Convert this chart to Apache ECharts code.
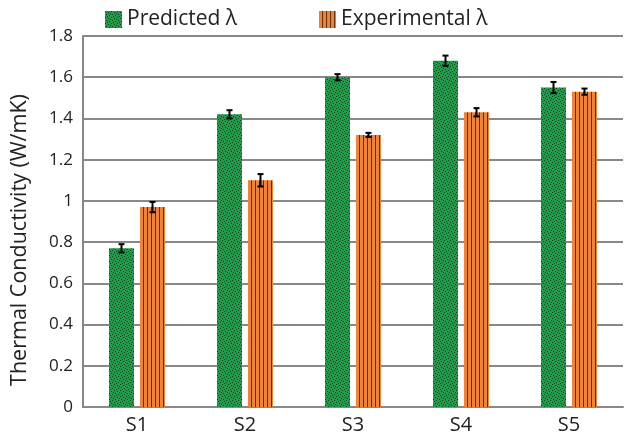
<!DOCTYPE html>
<html>
<head>
<meta charset="utf-8">
<script src="https://cdn.jsdelivr.net/npm/echarts@6/dist/echarts.min.js"></script>
<style>html,body{margin:0;padding:0;background:#fff}#c{width:625px;height:437px}</style>
</head>
<body>
<div id="c"></div>
<script>
const categories = ['S1', 'S2', 'S3', 'S4', 'S5'];
const predicted = [0.77, 1.42, 1.60, 1.68, 1.55];
const predictedErr = [0.02, 0.02, 0.015, 0.025, 0.027];
const experimental = [0.97, 1.10, 1.32, 1.43, 1.53];
const experimentalErr = [0.025, 0.03, 0.01, 0.02, 0.015];
const seriesNames = ['Predicted λ', 'Experimental λ'];
const yTicks = [0, 0.2, 0.4, 0.6, 0.8, 1, 1.2, 1.4, 1.6, 1.8];

function dotPattern() {
  const c = document.createElement('canvas');
  c.width = 6; c.height = 6;
  const g = c.getContext('2d');
  g.fillStyle = '#1c9e4a'; g.fillRect(0, 0, 6, 6);
  g.fillStyle = '#0b3d1c';
  const pts = [[0,0],[3,1],[1,3],[4,4],[5,2],[2,5]];
  pts.forEach(p => g.fillRect(p[0], p[1], 1, 1));
  return c;
}
function stripePattern() {
  const c = document.createElement('canvas');
  c.width = 4; c.height = 4;
  const g = c.getContext('2d');
  g.fillStyle = '#ee8434'; g.fillRect(0, 0, 4, 4);
  g.fillStyle = '#5c2e0e'; g.fillRect(3, 0, 1, 4);
  return c;
}
const greenFill = { image: dotPattern(), repeat: 'repeat' };
const orangeFill = { image: stripePattern(), repeat: 'repeat' };

const chart = echarts.init(document.getElementById('c'), null, { renderer: 'canvas' });
const FONT = 'Open Sans';
const BAR_OFFSET = 15.5;

function errSeries(vals, errs, sign) {
  return {
    type: 'custom',
    data: vals.map((v, i) => [i, v - errs[i], v + errs[i]]),
    z: 10,
    silent: true,
    renderItem: function (params, api) {
      const lo = api.coord([api.value(0), api.value(1)]);
      const hi = api.coord([api.value(0), api.value(2)]);
      const x = lo[0] + sign * BAR_OFFSET;
      const hw = 3;
      const style = { stroke: '#000', lineWidth: 2 };
      return {
        type: 'group',
        children: [
          { type: 'line', shape: { x1: x, y1: lo[1], x2: x, y2: hi[1] }, style: style },
          { type: 'line', shape: { x1: x - hw, y1: lo[1], x2: x + hw, y2: lo[1] }, style: style },
          { type: 'line', shape: { x1: x - hw, y1: hi[1], x2: x + hw, y2: hi[1] }, style: style }
        ]
      };
    }
  };
}

chart.setOption({
  animation: false,
  textStyle: { fontFamily: FONT },
  legend: {
    top: 4,
    left: 100,
    itemGap: 82,
    itemWidth: 17,
    itemHeight: 17,
    icon: 'rect',
    textStyle: { fontSize: 21, color: '#222', fontFamily: FONT },
    data: seriesNames
  },
  grid: { left: 83, right: 2, top: 36, bottom: 30, containLabel: false },
  xAxis: {
    type: 'category',
    data: categories,
    axisLine: { lineStyle: { color: '#888', width: 2 } },
    axisTick: { show: false },
    axisLabel: { fontSize: 20, color: '#222', fontFamily: FONT, margin: 8 }
  },
  yAxis: {
    type: 'value',
    min: 0, max: 1.8, interval: 0.2,
    axisLine: { show: true, lineStyle: { color: '#888', width: 2 } },
    axisTick: { show: false },
    splitLine: { lineStyle: { color: '#888', width: 2 } },
    axisLabel: {
      fontSize: 17, color: '#222', fontFamily: FONT, margin: 10,
      formatter: v => { const t = yTicks.find(x => Math.abs(x - v) < 1e-9); return String(t !== undefined ? t : v); }
    }
  },
  graphic: [{
    type: 'text',
    rotation: Math.PI / 2,
    x: 20, y: 240,
    style: { text: 'Thermal Conductivity (W/mK)', fontSize: 21.5, fontFamily: FONT, fill: '#222', align: 'center', verticalAlign: 'middle' }
  }],
  series: [
    { name: seriesNames[0], type: 'bar', data: predicted, barWidth: 25, barGap: '24%', itemStyle: { color: greenFill } },
    { name: seriesNames[1], type: 'bar', data: experimental, barWidth: 25, barGap: '24%', itemStyle: { color: orangeFill } },
    errSeries(predicted, predictedErr, -1),
    errSeries(experimental, experimentalErr, 1)
  ]
});
</script>
</body>
</html>
